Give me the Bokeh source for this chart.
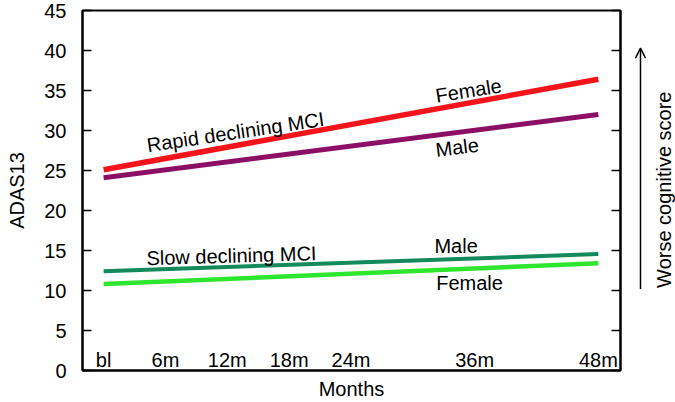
from bokeh.plotting import figure
from bokeh.layouts import row
from bokeh.models import (Range1d, LinearAxis, SingleIntervalTicker, FixedTicker, Label,
                          Arrow, OpenHead, CustomJSTickFormatter)
from bokeh.core.properties import value
from bokeh.embed import file_html
from bokeh.resources import INLINE

# values (ADAS13 at baseline and at 48 months)
months = [0, 48]
rapid_female = [25.1, 36.4]
rapid_male = [24.1, 32.0]
slow_male = [12.4, 14.55]
slow_female = [10.8, 13.4]

visit_months = [0, 6, 12, 18, 24, 36, 48]
visit_labels = ["bl", "6m", "12m", "18m", "24m", "36m", "48m"]

FONT = "Liberation Sans"
FS = "20px"

p = figure(width=624, height=402, output_backend="svg", toolbar_location=None,
           x_range=Range1d(-2.05, 50.15), y_range=Range1d(0, 45),
           x_axis_label="Months", y_axis_label="ADAS13",
           min_border_left=82, min_border_right=4, min_border_top=10, min_border_bottom=30)
p.grid.visible = False
p.outline_line_color = "black"
p.outline_line_width = 2

# left axis, ticks pointing inward
ya = p.yaxis[0]
ya.ticker = SingleIntervalTicker(interval=5)
ya.major_tick_in = 9
ya.major_tick_out = 0
ya.minor_tick_line_color = None
ya.axis_line_width = 2
ya.major_tick_line_width = 1.5
ya.major_label_standoff = 12
ya.major_label_text_font = FONT
ya.major_label_text_font_size = FS
ya.major_label_text_color = "black"
ya.axis_label_standoff = 13
ya.axis_label_text_font = FONT
ya.axis_label_text_font_size = FS
ya.axis_label_text_font_style = "normal"
ya.axis_label_text_color = "black"

# bottom axis has only the title, visit labels sit inside the box
xa = p.xaxis[0]
xa.ticker = FixedTicker(ticks=[])
xa.major_tick_in = 0
xa.major_tick_out = 0
xa.minor_tick_line_color = None
xa.axis_line_width = 2
xa.major_label_standoff = 0
xa.axis_label_standoff = 7
xa.axis_label_text_font = FONT
xa.axis_label_text_font_size = FS
xa.axis_label_text_font_style = "normal"
xa.axis_label_text_color = "black"

ra = LinearAxis(ticker=SingleIntervalTicker(interval=5),
                formatter=CustomJSTickFormatter(code="return ''"))
ra.major_tick_in = 9
ra.major_tick_out = 0
ra.minor_tick_line_color = None
ra.axis_line_width = 2
ra.major_tick_line_width = 1.5
ra.major_label_standoff = 0
p.add_layout(ra, "right")

p.line(months, slow_female, line_color="#2ee62e", line_width=4.5)
p.line(months, slow_male, line_color="#138a5c", line_width=4)
p.line(months, rapid_male, line_color="#8c0f66", line_width=5)
p.line(months, rapid_female, line_color="#f5141c", line_width=5.5)

p.text(x=visit_months, y=1.3, text=visit_labels, text_font=value(FONT),
       text_font_size=FS, text_align="center", text_baseline="alphabetic", text_color="black")

def note(fig, x, y, txt, ang=0):
    fig.add_layout(Label(x=x, y=y, text=txt, angle=ang, angle_units="deg",
                         text_align="center", text_baseline="middle",
                         text_font=FONT, text_font_size=FS, text_color="black"))

note(p, 12.8, 29.8, "Rapid declining MCI", 8.5)
note(p, 35.4, 35.0, "Female", 9)
note(p, 34.3, 27.9, "Male", 7)
note(p, 12.4, 14.35, "Slow declining MCI", 1.7)
note(p, 34.2, 15.6, "Male")
note(p, 35.5, 11.0, "Female")

# arrow and caption to the right of the box, in a narrow companion figure
side = figure(width=51, height=402, output_backend="svg", toolbar_location=None,
              x_range=Range1d(0, 51), y_range=p.y_range,
              x_axis_location=None, y_axis_location=None,
              min_border_left=0, min_border_right=0, min_border_top=10, min_border_bottom=30)
side.grid.visible = False
side.outline_line_color = None
side.add_layout(Arrow(end=OpenHead(size=10, line_width=1.5, line_color="black"),
                      line_width=1.5, line_color="black",
                      x_start=16, y_start=10.2, x_end=16, y_end=40.3))
note(side, 39, 22.6, "Worse cognitive score", 90)

open("out.html", "w").write(file_html(row(p, side), INLINE))
